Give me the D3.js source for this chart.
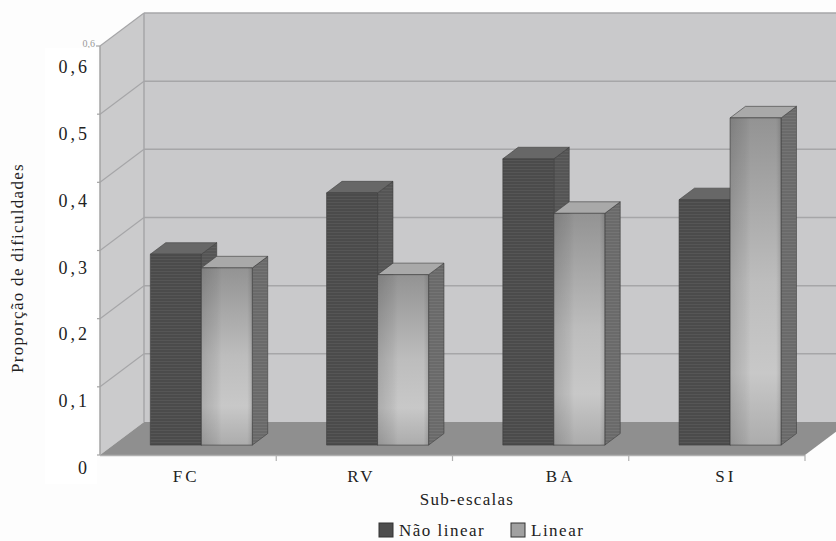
<!DOCTYPE html>
<html>
<head>
<meta charset="utf-8">
<script src="https://cdn.jsdelivr.net/npm/d3@7/dist/d3.min.js"></script>
<style>
  html, body { margin: 0; padding: 0; background: #fdfdfd; }
  svg { display: block; }
</style>
</head>
<body>
<svg id="chart" width="836" height="541"></svg>
<script>
// Sub-scale categories and the two series
const categories = ["FC", "RV", "BA", "SI"];
const seriesNames = ["Não linear", "Linear"];
const naoLinear = [0.28, 0.37, 0.42, 0.36];
const linear = [0.26, 0.25, 0.34, 0.48];
const yTickValues = [0, 0.1, 0.2, 0.3, 0.4, 0.5, 0.6];
const yTickLabels = ["0", "0,1", "0,2", "0,3", "0,4", "0,5", "0,6"];

const FONT = "'Liberation Serif', 'Times New Roman', 'DejaVu Serif', serif";
const svg = d3.select("#chart");
const W = 836, H = 541;

// Oblique projection of the 3D plot box
const FRONT_LEFT = 100, FRONT_RIGHT = 805, FLOOR_Y = 455;
const DX = 44, DY = -33;            // full depth offset
const T0 = 0.30, T1 = 0.65;          // bar depth span (fraction of box depth)

const x = d3.scaleBand().domain(categories).range([FRONT_LEFT, FRONT_RIGHT]).paddingInner(0).paddingOuter(0);
const groupW = 102;
const xs = d3.scaleBand().domain(seriesNames).range([0, groupW]);
const h = d3.scaleLinear().domain([0, 0.6]).range([0, 409]);
const yLabel = d3.scaleLinear().domain([0, 0.6]).range([474, 73]);

function P(xf, v, t) { return [xf + DX * t, FLOOR_Y + DY * t - h(v)]; }
function poly(pts) { return pts.map(p => p.join(",")).join(" "); }

const defs = svg.append("defs");

// striped fills for the bar faces
function stripes(id, base, line, op) {
  const p = defs.append("pattern").attr("id", id).attr("patternUnits", "userSpaceOnUse")
    .attr("width", 6).attr("height", 3);
  p.append("rect").attr("width", 6).attr("height", 3).attr("fill", base);
  p.append("rect").attr("y", 1).attr("width", 6).attr("height", 1).attr("fill", line).attr("opacity", op);
}
stripes("darkFront", "#4b4b4b", "#5c5c5c", 0.7);
stripes("darkSide", "#555555", "#636363", 0.7);
stripes("lightSide", "#6a6a6a", "#787878", 0.7);

const lg = defs.append("linearGradient").attr("id", "lightFront").attr("x1", 0).attr("y1", 0).attr("x2", 0).attr("y2", 1);
[[0, "#939393"], [0.5, "#bdbdbd"], [0.78, "#c8c8c8"], [1, "#acacac"]].forEach(([o, c]) =>
  lg.append("stop").attr("offset", o).attr("stop-color", c));
const lh = defs.append("linearGradient").attr("id", "lightShade").attr("x1", 0).attr("y1", 0).attr("x2", 1).attr("y2", 0);
[[0, 0.14], [0.3, 0.05], [0.4, 0], [0.9, 0], [1, 0.12]].forEach(([o, a]) =>
  lh.append("stop").attr("offset", o).attr("stop-color", "#000").attr("stop-opacity", a));

svg.append("rect").attr("width", W).attr("height", H).attr("fill", "#fdfdfd");

const box = svg.append("g");
const wallColor = "#c9c9cb", gridColor = "#a6a6a8";

// back wall
box.append("polygon").attr("points", poly([P(FRONT_LEFT, 0.6, 1), P(FRONT_RIGHT, 0.6, 1), P(FRONT_RIGHT, 0, 1), P(FRONT_LEFT, 0, 1)]))
  .attr("fill", wallColor);
// side wall
box.append("polygon").attr("points", poly([P(FRONT_LEFT, 0.6, 0), P(FRONT_LEFT, 0.6, 1), P(FRONT_LEFT, 0, 1), P(FRONT_LEFT, 0, 0)]))
  .attr("fill", "#cbcbcc");

// gridlines on both walls
yTickValues.slice(1).forEach(v => {
  box.append("line").attr("x1", P(FRONT_LEFT, v, 1)[0]).attr("y1", P(FRONT_LEFT, v, 1)[1])
    .attr("x2", P(FRONT_RIGHT, v, 1)[0]).attr("y2", P(FRONT_RIGHT, v, 1)[1])
    .attr("stroke", gridColor).attr("stroke-width", 1.5);
  box.append("line").attr("x1", P(FRONT_LEFT, v, 0)[0]).attr("y1", P(FRONT_LEFT, v, 0)[1])
    .attr("x2", P(FRONT_LEFT, v, 1)[0]).attr("y2", P(FRONT_LEFT, v, 1)[1])
    .attr("stroke", gridColor).attr("stroke-width", 1.2);
});
// back corner edge
box.append("line").attr("x1", P(FRONT_LEFT, 0.6, 1)[0]).attr("y1", P(FRONT_LEFT, 0.6, 1)[1])
  .attr("x2", P(FRONT_LEFT, 0, 1)[0]).attr("y2", P(FRONT_LEFT, 0, 1)[1])
  .attr("stroke", gridColor).attr("stroke-width", 1.5);

// floor
box.append("polygon").attr("points", poly([P(FRONT_LEFT, 0, 0), P(FRONT_RIGHT, 0, 0), P(FRONT_RIGHT, 0, 1), P(FRONT_LEFT, 0, 1)]))
  .attr("fill", "#8f8f8f");

// value axis line and ticks
box.append("line").attr("x1", FRONT_LEFT).attr("y1", P(0, 0.6, 0)[1]).attr("x2", FRONT_LEFT).attr("y2", FLOOR_Y)
  .attr("stroke", "#a3a3a3").attr("stroke-width", 1.5);
yTickValues.forEach(v => {
  box.append("line").attr("x1", FRONT_LEFT - 4).attr("x2", FRONT_LEFT).attr("y1", P(0, v, 0)[1]).attr("y2", P(0, v, 0)[1])
    .attr("stroke", "#a3a3a3").attr("stroke-width", 1.2);
});
// category axis line and ticks
box.append("line").attr("x1", FRONT_LEFT).attr("x2", FRONT_RIGHT).attr("y1", FLOOR_Y + 0.5).attr("y2", FLOOR_Y + 0.5)
  .attr("stroke", "#b0b0b0").attr("stroke-width", 1.5);
categories.forEach((c) => {
  const bx = x(c) + x.bandwidth();
  box.append("line").attr("x1", bx).attr("x2", bx).attr("y1", FLOOR_Y).attr("y2", FLOOR_Y + 6)
    .attr("stroke", "#b0b0b0").attr("stroke-width", 1.2);
});

// 3D bars
const styles = [
  { front: "url(#darkFront)", side: "url(#darkSide)", top: "#676767", shade: null },
  { front: "url(#lightFront)", side: "url(#lightSide)", top: "#a9a9a9", shade: "url(#lightShade)" }
];
const seriesValues = [naoLinear, linear];
const bars = svg.append("g");
categories.forEach((c, i) => {
  seriesNames.forEach((s, k) => {
    const v = seriesValues[k][i];
    const x0 = x(c) + (x.bandwidth() - groupW) / 2 + xs(s);
    const x1 = x0 + xs.bandwidth();
    const st = styles[k];
    const g = bars.append("g");
    g.append("polygon").attr("points", poly([P(x1, 0, T0), P(x1, 0, T1), P(x1, v, T1), P(x1, v, T0)]))
      .attr("fill", st.side).attr("stroke", "#3d3d3d").attr("stroke-width", 0.6);
    g.append("polygon").attr("points", poly([P(x0, v, T0), P(x1, v, T0), P(x1, v, T1), P(x0, v, T1)]))
      .attr("fill", st.top).attr("stroke", "#3d3d3d").attr("stroke-width", 0.6);
    const f = [P(x0, v, T0), P(x1, v, T0), P(x1, 0, T0), P(x0, 0, T0)];
    g.append("polygon").attr("points", poly(f)).attr("fill", st.front)
      .attr("stroke", "#3d3d3d").attr("stroke-width", 0.6);
    if (st.shade) g.append("polygon").attr("points", poly(f)).attr("fill", st.shade);
  });
});

// faint small value label behind the overlay panel
svg.append("text").attr("x", 95).attr("y", 47).attr("text-anchor", "end")
  .style("font-family", FONT).style("font-size", "10px").style("fill", "#9a9a9a").text("0,6");
svg.append("rect").attr("x", 45).attr("y", 48).attr("width", 52).attr("height", 436).attr("fill", "#ffffff");

function label(sel, size, spacing) {
  return sel.style("font-family", FONT).style("font-size", size + "px")
    .style("letter-spacing", spacing + "px").style("fill", "#222");
}

// value labels
yTickValues.forEach((v, i) => {
  label(svg.append("text").attr("x", 90).attr("y", yLabel(v)).attr("text-anchor", "end"), 18, 3)
    .text(yTickLabels[i]);
});

// category labels
const catLabelShift = [-2, -3, 20, 9];
categories.forEach((c, i) => {
  label(svg.append("text").attr("x", x(c) + x.bandwidth() / 2 + catLabelShift[i]).attr("y", 482)
    .attr("text-anchor", "middle"), 17, 3).text(c);
});

// axis titles
label(svg.append("text").attr("x", 467).attr("y", 505).attr("text-anchor", "middle"), 17, 1.3)
  .text("Sub-escalas");
label(svg.append("text").attr("transform", "translate(23,268) rotate(-90)").attr("text-anchor", "middle"), 17, 1.3)
  .text("Proporção de dificuldades");

// legend
const legend = svg.append("g");
const legendX = [379, 511];
const legendFill = ["#4e4e4e", "#a0a0a0"];
seriesNames.forEach((s, k) => {
  legend.append("rect").attr("x", legendX[k]).attr("y", 523).attr("width", 14).attr("height", 14)
    .attr("fill", legendFill[k]).attr("stroke", "#333").attr("stroke-width", 1);
  label(legend.append("text").attr("x", legendX[k] + 20).attr("y", 536), 17, 1.5).text(s);
});
</script>
</body>
</html>
